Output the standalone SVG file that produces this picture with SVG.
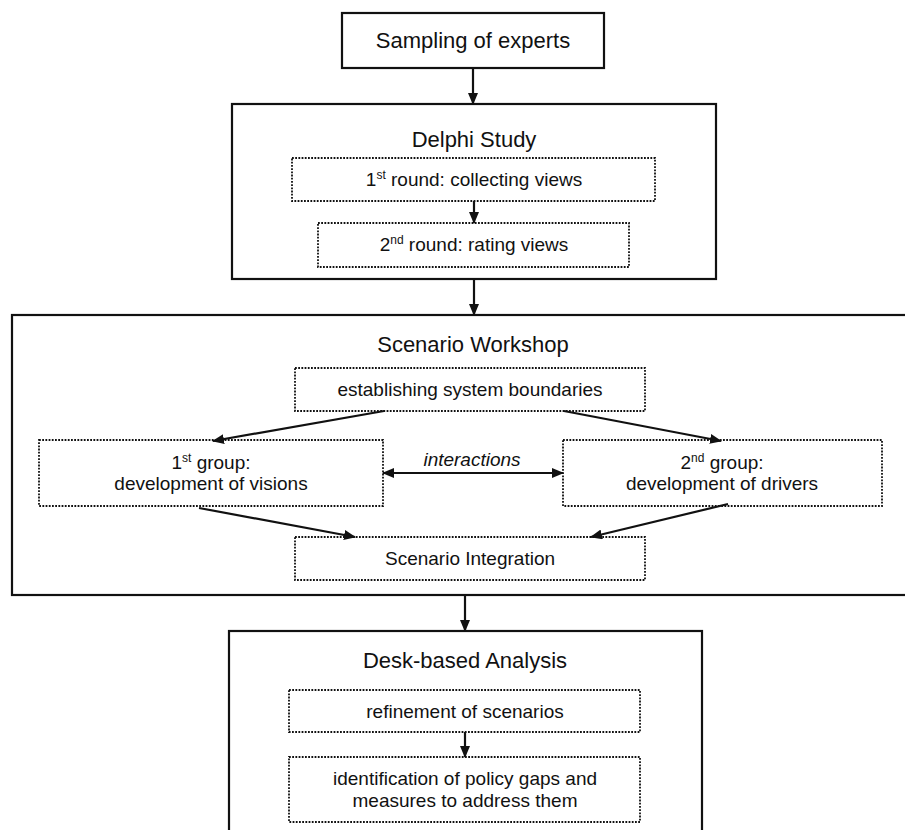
<svg xmlns="http://www.w3.org/2000/svg" width="905" height="830" viewBox="0 0 905 830">
<defs>
<style>
.solid{fill:#fff;stroke:#111;stroke-width:2.2}
.dot{fill:none;stroke:#111;stroke-width:1.8;stroke-dasharray:1.8 1.4}
.t{font-family:"Liberation Sans",Arial,sans-serif;fill:#111;text-anchor:middle}
.h{font-size:22px}
.s{font-size:19px}
.c{stroke:#111;stroke-width:2.2;fill:none}
</style>
<marker id="ah" markerUnits="userSpaceOnUse" markerWidth="12" markerHeight="10" refX="11" refY="5" orient="auto-start-reverse">
<path d="M0,0 L12,5 L0,10 z" fill="#111"/>
</marker>
</defs>
<rect width="905" height="830" fill="#fff"/>

<g id="sampling">
<rect class="solid" x="342" y="13" width="262" height="55"/>
<text class="t h" x="473" y="48">Sampling of experts</text>
</g>

<g id="delphi">
<rect class="solid" x="232" y="104" width="484" height="175"/>
<text class="t h" x="474" y="147">Delphi Study</text>
</g>
<g id="round1">
<rect class="dot" x="292" y="158" width="363" height="43"/>
<text class="t s" x="474" y="186">1<tspan font-size="12" dy="-7">st</tspan><tspan dy="7"> round: collecting views</tspan></text>
</g>
<g id="round2">
<rect class="dot" x="318" y="223" width="311" height="44"/>
<text class="t s" x="474" y="251">2<tspan font-size="12" dy="-7">nd</tspan><tspan dy="7"> round: rating views</tspan></text>
</g>

<g id="workshop">
<rect class="solid" x="12" y="315" width="905" height="280"/>
<text class="t h" x="473" y="352">Scenario Workshop</text>
</g>
<g id="boundaries">
<rect class="dot" x="295" y="368" width="350" height="43"/>
<text class="t s" x="470" y="396">establishing system boundaries</text>
</g>
<g id="group1">
<rect class="dot" x="39" y="440" width="344" height="66"/>
<text class="t s" x="211" y="469">1<tspan font-size="12" dy="-7">st</tspan><tspan dy="7"> group:</tspan></text>
<text class="t s" x="211" y="490">development of visions</text>
</g>
<g id="group2">
<rect class="dot" x="563" y="440" width="319" height="66"/>
<text class="t s" x="722" y="469">2<tspan font-size="12" dy="-7">nd</tspan><tspan dy="7"> group:</tspan></text>
<text class="t s" x="722" y="490">development of drivers</text>
</g>
<g id="integration">
<rect class="dot" x="295" y="537" width="350" height="43"/>
<text class="t s" x="470" y="565">Scenario Integration</text>
</g>
<g id="interactions-label">
<text class="t s" x="472" y="466" font-style="italic">interactions</text>
</g>

<g id="desk">
<rect class="solid" x="229" y="631" width="473" height="230"/>
<text class="t h" x="465" y="668">Desk-based Analysis</text>
</g>
<g id="refinement">
<rect class="dot" x="289" y="690" width="351" height="42"/>
<text class="t s" x="465" y="718">refinement of scenarios</text>
</g>
<g id="identification">
<rect class="dot" x="289" y="757" width="351" height="65"/>
<text class="t s" x="465" y="785">identification of policy gaps and</text>
<text class="t s" x="465" y="807">measures to address them</text>
</g>

<g id="connectors">
<line class="c" x1="473" y1="68" x2="473" y2="104" marker-end="url(#ah)"/>
<line class="c" x1="474" y1="201" x2="474" y2="223" marker-end="url(#ah)"/>
<line class="c" x1="474" y1="279" x2="474" y2="315" marker-end="url(#ah)"/>
<line class="c" x1="384" y1="411" x2="213" y2="441" marker-end="url(#ah)"/>
<line class="c" x1="564" y1="411" x2="721" y2="441" marker-end="url(#ah)"/>
<line class="c" x1="383" y1="473" x2="563" y2="473" marker-start="url(#ah)" marker-end="url(#ah)"/>
<line class="c" x1="199" y1="508" x2="355" y2="537" marker-end="url(#ah)"/>
<line class="c" x1="728" y1="504" x2="591" y2="537" marker-end="url(#ah)"/>
<line class="c" x1="465" y1="595" x2="465" y2="631" marker-end="url(#ah)"/>
<line class="c" x1="465" y1="732" x2="465" y2="757" marker-end="url(#ah)"/>
</g>
</svg>
